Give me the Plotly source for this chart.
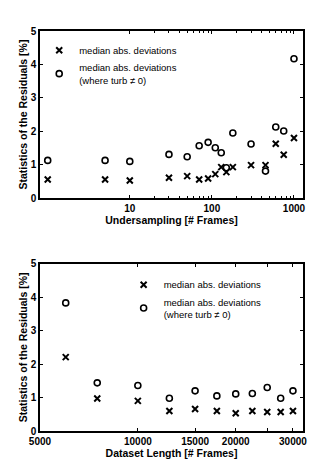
import plotly.graph_objects as go
from plotly.subplots import make_subplots

# top panel: undersampling
us_frames = [1, 5, 10, 30, 50, 70, 90, 110, 130, 150, 180, 300, 450, 600, 750, 1000]
us_mad = [0.56, 0.56, 0.53, 0.61, 0.66, 0.56, 0.59, 0.72, 0.93, 0.78, 0.93, 0.99, 0.99, 1.63, 1.30, 1.80]
us_mad_turb = [1.13, 1.13, 1.10, 1.31, 1.24, 1.57, 1.67, 1.51, 1.36, 0.91, 1.95, 1.62, 0.81, 2.13, 2.01, 4.17]

# bottom panel: dataset length
len_frames = [6000, 7500, 10000, 12500, 15000, 17500, 20000, 22500, 25000, 27500, 30000]
len_mad = [2.21, 0.97, 0.90, 0.60, 0.66, 0.60, 0.53, 0.60, 0.57, 0.57, 0.60]
len_mad_turb = [3.83, 1.44, 1.36, 0.98, 1.20, 1.05, 1.11, 1.12, 1.30, 0.98, 1.20]

us_ticks = [10, 100, 1000]
us_minor = [20, 30, 40, 50, 60, 70, 80, 90, 200, 300, 400, 500, 600, 700, 800, 900]
len_ticks = [5000, 10000, 15000, 20000, 25000, 30000]
len_ticktext = ["5000", "10000", "15000", "20000", "", "30000"]
y_ticks = [0, 1, 2, 3, 4, 5]

name_mad = "median abs. deviations"
name_turb = "median abs. deviations<br>(where turb \u2260 0)"

FONT = "Liberation Sans, Arial, Helvetica, sans-serif"

fig = make_subplots(rows=2, cols=1, vertical_spacing=0.164)

cross = dict(symbol="x-thin", size=6, color="black", line=dict(width=2, color="black"))
ring = dict(symbol="circle-open", size=6, color="black", line=dict(width=1.6, color="black"))

fig.add_trace(go.Scatter(x=us_frames, y=us_mad, mode="markers", marker=cross,
                         name=name_mad, legend="legend"), row=1, col=1)
fig.add_trace(go.Scatter(x=us_frames, y=us_mad_turb, mode="markers", marker=ring,
                         name=name_turb, legend="legend"), row=1, col=1)
fig.add_trace(go.Scatter(x=len_frames, y=len_mad, mode="markers", marker=cross,
                         name=name_mad, legend="legend2"), row=2, col=1)
fig.add_trace(go.Scatter(x=len_frames, y=len_mad_turb, mode="markers", marker=ring,
                         name=name_turb, legend="legend2"), row=2, col=1)

ax_common = dict(showline=True, linecolor="black", linewidth=1.5, mirror="ticks",
                 ticks="inside", ticklen=3, tickcolor="black", tickwidth=1,
                 showgrid=False, zeroline=False,
                 tickfont=dict(family=FONT, size=10, color="black", weight="bold"),
                 title_font=dict(family=FONT, size=10.5, color="black", weight="bold"))

fig.update_xaxes(**ax_common)
fig.update_yaxes(**ax_common)

fig.update_xaxes(type="log", range=[-0.094, 3.11], tickvals=us_ticks,
                 ticktext=[str(v) for v in us_ticks],
                 minor=dict(tickvals=us_minor, ticks="inside", ticklen=2, tickcolor="black"),
                 title_text="Undersampling [# Frames]", title_standoff=0, row=1, col=1)
fig.update_xaxes(type="log", range=[3.699, 4.508], tickvals=len_ticks, ticktext=len_ticktext,
                 title_text="Dataset Length [# Frames]", title_standoff=0, row=2, col=1)
fig.update_yaxes(range=[0, 5], tickvals=y_ticks,
                 title_text="Statistics of the Residuals [%]", title_standoff=1)

leg = dict(bgcolor="rgba(0,0,0,0)", borderwidth=0, itemwidth=30,
           font=dict(family=FONT, size=9.5, color="black"),
           xanchor="left", yanchor="top", tracegroupgap=0)

# page body has an 8px margin, so the figure is drawn 8px smaller
fig.update_layout(
    width=319, height=459,
    margin=dict(l=32, r=24, t=23, b=36),
    paper_bgcolor="white", plot_bgcolor="white",
    showlegend=True,
    legend=dict(leg, x=-0.003, y=0.988),
    legend2=dict(leg, x=0.318, y=0.402),
)

fig.write_html("out.html")
